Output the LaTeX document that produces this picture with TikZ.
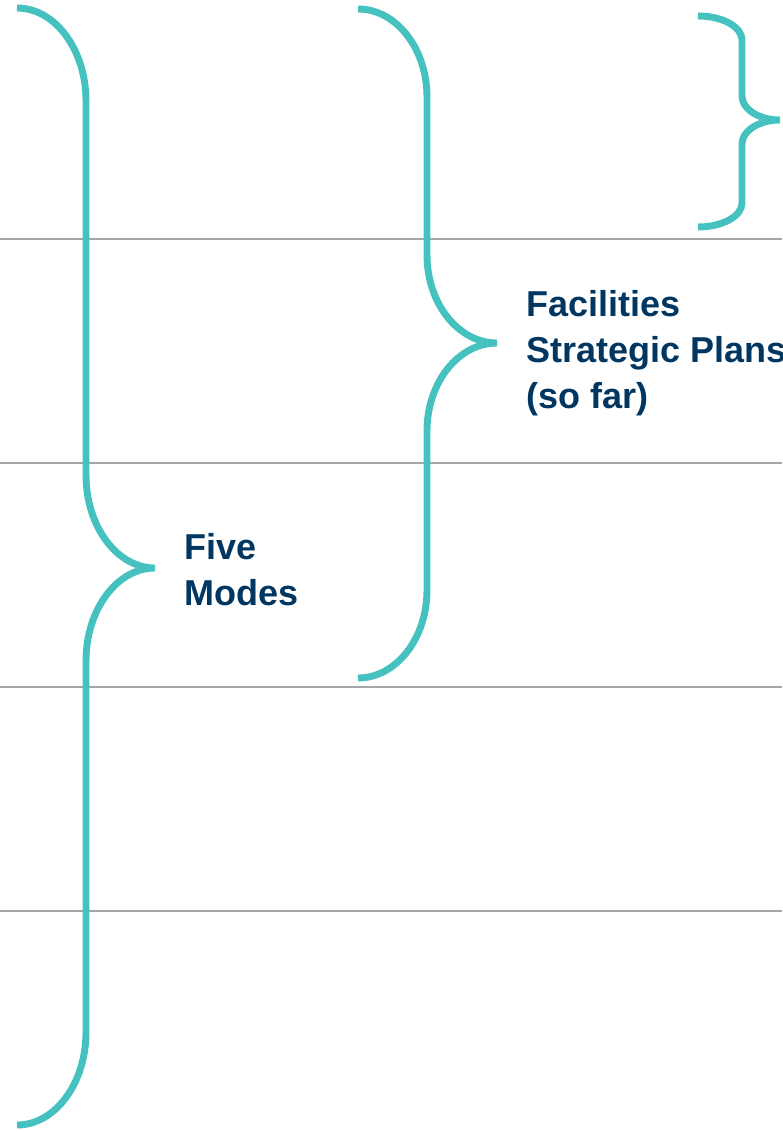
\documentclass[tikz,border=0pt]{standalone}
\usepackage{fontspec}
\setmainfont{Liberation Sans}
\usepackage{tikz}
\definecolor{teal}{RGB}{69,193,191}
\definecolor{navy}{RGB}{0,54,96}
\definecolor{rulegray}{RGB}{166,166,166}
\tikzset{
	brace/.style={line width=5.2pt, color=teal},
	rule/.style={line width=1.5pt, color=rulegray},
	label/.style={font=\fontsize{27}{34.5}\selectfont\bfseries, text=navy, align=left, inner sep=0pt, anchor=base west}
}
% (x end, x stem, x tip, y top, y tip, y bottom, bend)
\def\curly(#1,#2,#3,#4,#5,#6,#7){\draw[brace] (#1,#4) .. controls ({#1+0.552*(#2-#1)},#4) and (#2,{#4+0.448*#7}) .. (#2,{#4+#7}) -- (#2,{#5-#7}) .. controls (#2,{#5-0.448*#7}) and ({#3-0.552*(#3-#2)},#5) .. (#3,#5) .. controls ({#3-0.552*(#3-#2)},#5) and (#2,{#5+0.448*#7}) .. (#2,{#5+#7}) -- (#2,{#6-#7}) .. controls (#2,{#6-0.448*#7}) and ({#1+0.552*(#2-#1)},#6) .. (#1,#6);}

\begin{document}
\begin{tikzpicture}[x=0.75pt, y=-0.75pt]
		%%%%% START %%%%%
		
		\useasboundingbox (0, 0) rectangle (782, 1131);
		
		\foreach \y in {239, 463, 687, 911}
			\draw[rule] (0, \y) -- (782, \y);
		
		\curly(17, 86, 155, 8, 568, 1125, 93)
		\curly(358, 427, 497, 9, 343, 678, 88)
		\curly(698, 742, 780, 16, 120, 227, 24)
		
		% base anchor sits on the last line
		\node[label] (modes) at (184, 605) {Five\\Modes};
		\node[label] (plans) at (526, 408) {Facilities\\Strategic Plans\\(so far)};
		
		%%%%% END %%%%%
	\end{tikzpicture}
\end{document}
